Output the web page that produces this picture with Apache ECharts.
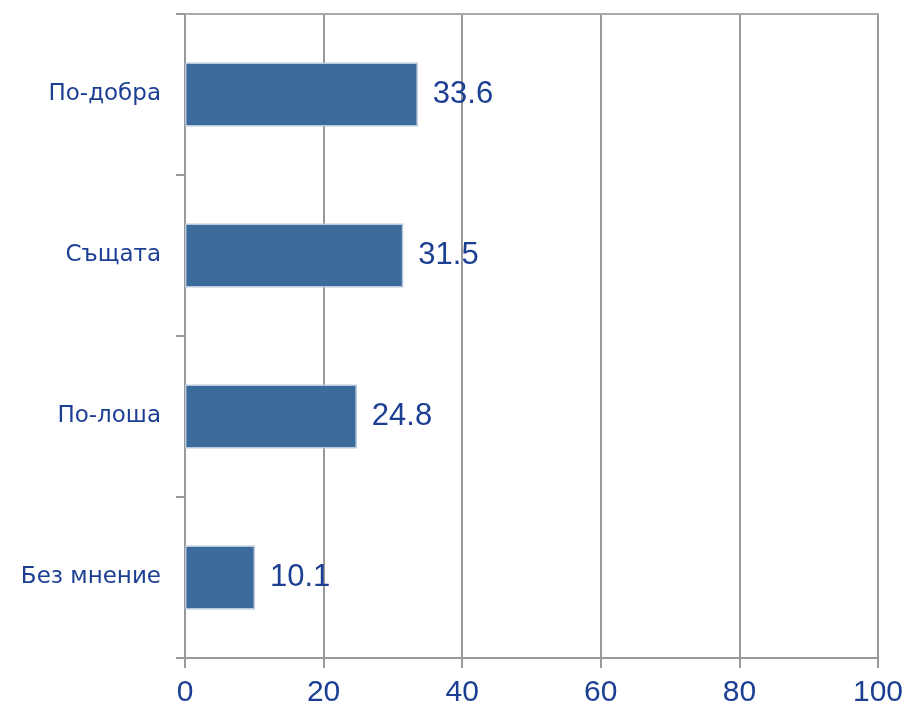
<!DOCTYPE html>
<html><head><meta charset="utf-8">
<script src="https://cdn.jsdelivr.net/npm/echarts@6/dist/echarts.min.js"></script>
<style>html,body{margin:0;padding:0;background:#fff}#c{width:909px;height:711px}</style>
</head><body><div id="c"></div>
<script>
var categories = ["Без мнение", "По-лоша", "Същата", "По-добра"];
var values = [10.1, 24.8, 31.5, 33.6];
var xTicks = [0, 20, 40, 60, 80, 100];

var chart = echarts.init(document.getElementById('c'));
var txt = '#1C3F94';
chart.setOption({
  animation: false,
  backgroundColor: '#fff',
  grid: {left: 185, right: 31, top: 14, bottom: 53},
  xAxis: [{
    type: 'value', min: xTicks[0], max: xTicks[xTicks.length-1], interval: 20,
    axisLine: {show: true, lineStyle: {color: '#999', width: 2}},
    axisTick: {show: true, length: 10, lineStyle: {color: '#999', width: 2}},
    axisLabel: {color: txt, fontSize: 30, fontFamily: 'Liberation Sans, Arial', margin: 20},
    splitLine: {show: true, lineStyle: {color: '#999', width: 2}}
  }, {
    type: 'value', position: 'top', min: 0, max: 100,
    axisLine: {show: true, lineStyle: {color: '#aaa', width: 2}},
    axisTick: {show: false}, axisLabel: {show: false}, splitLine: {show: false}
  }],
  yAxis: {
    type: 'category', data: categories,
    axisLine: {show: true, lineStyle: {color: '#999', width: 2}},
    axisTick: {show: true, length: 9, lineStyle: {color: '#999', width: 2}},
    axisLabel: {color: txt, fontSize: 23, fontFamily: 'DejaVu Sans', margin: 24}
  },
  series: [{
    type: 'bar', data: values, barWidth: 64,
    itemStyle: {color: '#3A6B9B', borderColor: '#B9C8DA', borderWidth: 1.5},
    label: {show: true, position: 'right', distance: 15, color: txt, fontSize: 31,
      fontFamily: 'Liberation Sans, Arial', formatter: function(p){return p.value.toFixed(1);}}
  }]
});
</script></body></html>
